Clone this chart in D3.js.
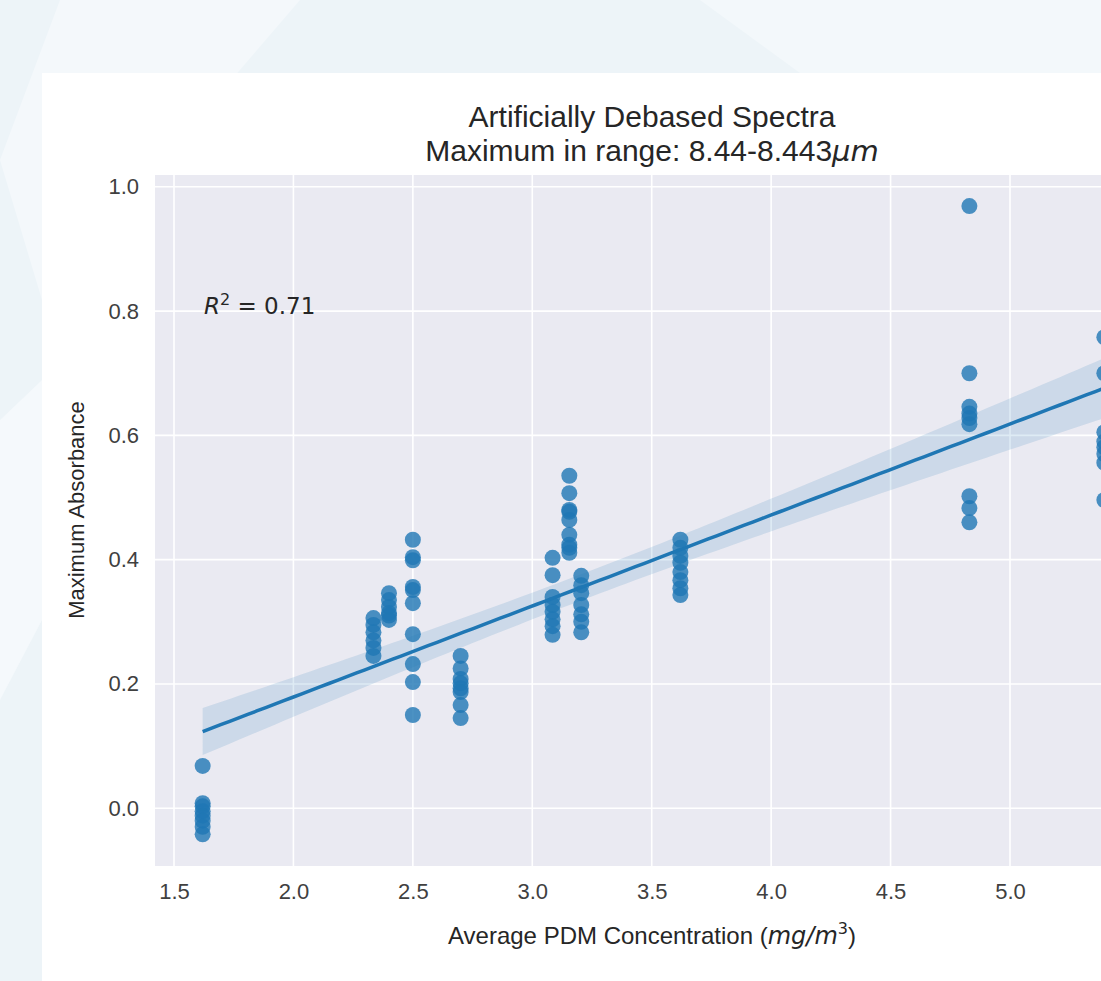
<!DOCTYPE html>
<html>
<head>
<meta charset="utf-8">
<script src="https://cdn.jsdelivr.net/npm/d3@7"></script>
<style>
  html, body { margin: 0; padding: 0; }
  body { width: 1101px; height: 981px; overflow: hidden; background: #edf4f8; }
  svg { display: block; }
</style>
</head>
<body>
<svg id="chart" width="1101" height="981"></svg>
<script>
// concentration of each measurement group (mg/m3)
var groupX = [1.62, 2.335, 2.40, 2.50, 2.70, 3.085, 3.155, 3.205, 3.62, 4.83, 5.395];
// maximum absorbance values measured in each group
var groupY = [
  [0.068, 0.008, 0.003, -0.005, -0.012, -0.02, -0.03, -0.042],
  [0.306, 0.295, 0.283, 0.27, 0.258, 0.245],
  [0.346, 0.335, 0.324, 0.314, 0.303, 0.31],
  [0.432, 0.404, 0.399, 0.356, 0.351, 0.330, 0.280, 0.232, 0.203, 0.150],
  [0.245, 0.225, 0.208, 0.201, 0.193, 0.187, 0.166, 0.145],
  [0.403, 0.375, 0.340, 0.327, 0.316, 0.304, 0.293, 0.279],
  [0.535, 0.507, 0.480, 0.477, 0.464, 0.44, 0.424, 0.419, 0.411],
  [0.374, 0.359, 0.346, 0.327, 0.312, 0.300, 0.283],
  [0.432, 0.419, 0.406, 0.395, 0.380, 0.367, 0.354, 0.343],
  [0.969, 0.70, 0.646, 0.635, 0.628, 0.618, 0.502, 0.483, 0.46],
  [0.758, 0.70, 0.605, 0.59, 0.581, 0.57, 0.556, 0.496]
];
var xTicks = [1.5, 2.0, 2.5, 3.0, 3.5, 4.0, 4.5, 5.0];
var yTicks = [0.0, 0.2, 0.4, 0.6, 0.8, 1.0];
var r2Text = "0.71";

var blue = "#1f77b4";
var font = "'Liberation Sans', Arial, sans-serif";
var mathFont = "'DejaVu Sans', sans-serif";
var svg = d3.select("#chart");

// page background with faint diagonal shapes
svg.append("rect").attr("width", 1101).attr("height", 981).attr("fill", "#edf4f8");
svg.append("polygon").attr("points", "60,0 300,0 42,300 0,160").attr("fill", "#f4f8fb");
svg.append("polygon").attr("points", "700,0 1101,0 1101,73 800,73").attr("fill", "#f3f8fb");
svg.append("polygon").attr("points", "0,420 42,380 42,620 0,700").attr("fill", "#f5f9fc");

// white card
svg.append("rect").attr("x", 42).attr("y", 73).attr("width", 1100).attr("height", 920).attr("fill", "#ffffff");

var plotLeft = 155, plotTop = 175, plotBottom = 866;
var pxPerUnit = (1010 - 174) / 3.5;
var xMin = 1.5 - (174 - plotLeft) / pxPerUnit;
var xMax = 5.62;

var x = d3.scaleLinear().domain([xMin, xMax]).range([plotLeft, plotLeft + (xMax - xMin) * pxPerUnit]);
var y = d3.scaleLinear().domain([-0.093, 1.019]).range([plotBottom, plotTop]);

svg.append("rect")
  .attr("x", x(xMin)).attr("y", plotTop)
  .attr("width", x(xMax) - x(xMin)).attr("height", plotBottom - plotTop)
  .attr("fill", "#eaeaf2");

// grid
svg.append("g").selectAll("line").data(xTicks).enter().append("line")
  .attr("x1", function (d) { return x(d); }).attr("x2", function (d) { return x(d); })
  .attr("y1", plotTop).attr("y2", plotBottom)
  .attr("stroke", "#ffffff").attr("stroke-width", 1.6);
svg.append("g").selectAll("line").data(yTicks).enter().append("line")
  .attr("y1", function (d) { return y(d); }).attr("y2", function (d) { return y(d); })
  .attr("x1", x(xMin)).attr("x2", x(xMax))
  .attr("stroke", "#ffffff").attr("stroke-width", 1.6);

// axes (labels only, seaborn darkgrid style)
var xAxis = svg.append("g").attr("transform", "translate(0," + plotBottom + ")")
  .call(d3.axisBottom(x).tickValues(xTicks).tickFormat(d3.format(".1f")).tickSize(0).tickPadding(17));
var yAxis = svg.append("g").attr("transform", "translate(" + plotLeft + ",0)")
  .call(d3.axisLeft(y).tickValues(yTicks).tickFormat(d3.format(".1f")).tickSize(0).tickPadding(16));
[xAxis, yAxis].forEach(function (a) {
  a.select(".domain").remove();
  a.attr("font-size", null).attr("font-family", null);
  a.selectAll("text")
    .attr("fill", "#404040")
    .style("font-family", font)
    .style("font-size", "22px");
});

// flatten points
var points = [];
groupX.forEach(function (gx, i) {
  groupY[i].forEach(function (gy) { points.push({ x: gx, y: gy }); });
});

// least squares fit with 95% confidence band
var n = points.length;
var mx = d3.mean(points, function (d) { return d.x; });
var my = d3.mean(points, function (d) { return d.y; });
var sxx = d3.sum(points, function (d) { return (d.x - mx) * (d.x - mx); });
var sxy = d3.sum(points, function (d) { return (d.x - mx) * (d.y - my); });
var slope = sxy / sxx;
var icpt = my - slope * mx;
var sse = d3.sum(points, function (d) { var e = d.y - (icpt + slope * d.x); return e * e; });
var s = Math.sqrt(sse / (n - 2));
var fx0 = d3.min(groupX), fx1 = d3.max(groupX);
var fitPts = d3.range(0, 101).map(function (k) {
  var fx = fx0 + (fx1 - fx0) * k / 100;
  var fy = icpt + slope * fx;
  var se = 1.99 * s * Math.sqrt(1 / n + (fx - mx) * (fx - mx) / sxx);
  return { x: fx, y: fy, lo: fy - se, hi: fy + se };
});

svg.append("path").datum(fitPts)
  .attr("d", d3.area()
    .x(function (d) { return x(d.x); })
    .y0(function (d) { return y(d.lo); })
    .y1(function (d) { return y(d.hi); }))
  .attr("fill", blue).attr("fill-opacity", 0.15);

svg.append("g").selectAll("circle").data(points).enter().append("circle")
  .attr("cx", function (d) { return x(d.x); })
  .attr("cy", function (d) { return y(d.y); })
  .attr("r", 8)
  .attr("fill", blue).attr("fill-opacity", 0.8);

svg.append("path").datum(fitPts)
  .attr("d", d3.line().x(function (d) { return x(d.x); }).y(function (d) { return y(d.y); }))
  .attr("fill", "none").attr("stroke", blue).attr("stroke-width", 3.5);

// R^2 annotation
var r2 = svg.append("text").attr("x", 204).attr("y", 314)
  .attr("fill", "#262626")
  .style("font-family", mathFont).style("font-size", "23px");
r2.append("tspan").attr("font-style", "italic").text("R");
r2.append("tspan").attr("dy", -9).style("font-size", "16px").text("2");
r2.append("tspan").attr("dy", 9).text(" = " + r2Text);

// title
svg.append("text").attr("x", 652).attr("y", 127).attr("text-anchor", "middle")
  .attr("fill", "#262626").style("font-family", font).style("font-size", "30px")
  .text("Artificially Debased Spectra");
var t2 = svg.append("text").attr("x", 652).attr("y", 161).attr("text-anchor", "middle")
  .attr("fill", "#262626").style("font-family", font).style("font-size", "30px");
t2.append("tspan").text("Maximum in range: 8.44-8.443");
t2.append("tspan").attr("font-style", "italic").style("font-family", mathFont).style("font-size", "29px").text("μm");

// axis labels
var xl = svg.append("text").attr("x", 652).attr("y", 944).attr("text-anchor", "middle")
  .attr("fill", "#262626").style("font-family", font).style("font-size", "24px");
xl.append("tspan").text("Average PDM Concentration (");
xl.append("tspan").attr("font-style", "italic").style("font-family", mathFont).text("mg/m");
xl.append("tspan").attr("dy", -10).style("font-size", "16px").style("font-family", mathFont).text("3");
xl.append("tspan").attr("dy", 10).text(")");

svg.append("text")
  .attr("transform", "translate(84,510) rotate(-90)")
  .attr("text-anchor", "middle")
  .attr("fill", "#262626").style("font-family", font).style("font-size", "22px")
  .text("Maximum Absorbance");
</script>
</body>
</html>
